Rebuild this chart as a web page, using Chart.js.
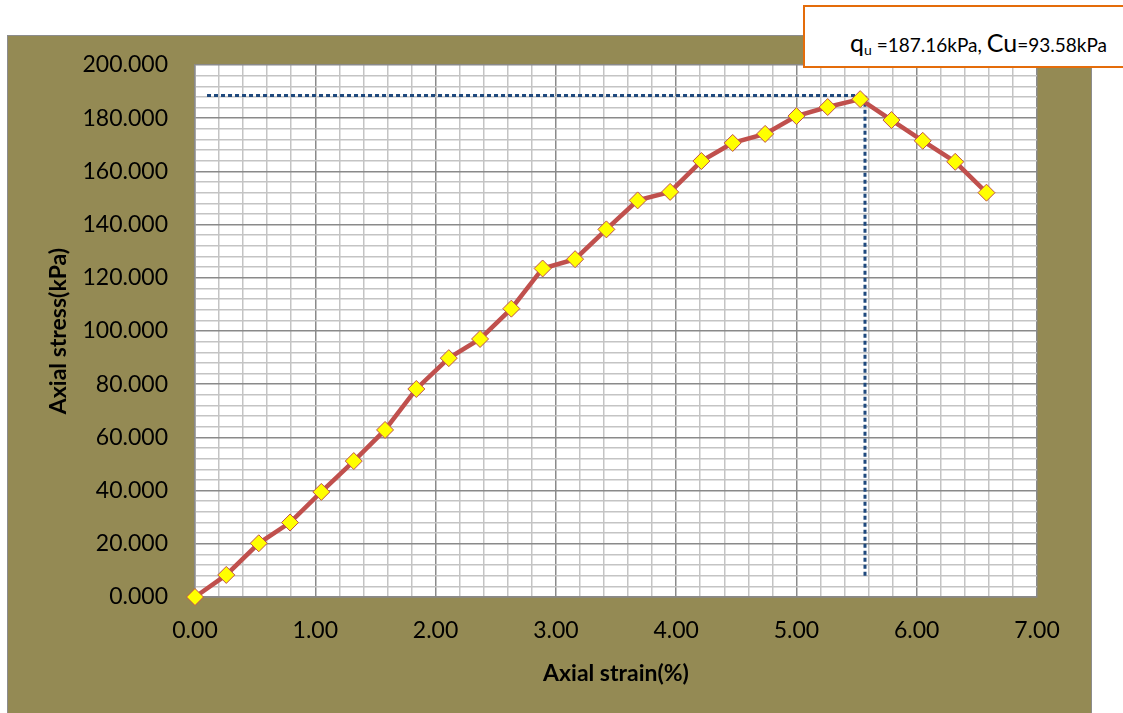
<!DOCTYPE html>
<html>
<head>
<meta charset="utf-8">
<script src="https://cdn.jsdelivr.net/npm/chart.js@4"></script>
<style>
  html, body { margin: 0; padding: 0; background: #fff; overflow: hidden; }
  body { width: 1123px; height: 713px; position: relative; font-family: Lato, sans-serif; }
  #frame {
    position: absolute; left: 7px; top: 35px; width: 1085px; height: 678px;
    box-sizing: border-box; border: 1px solid #8c8c8c; border-bottom: none;
    background: #948a54;
  }
  #note {
    position: absolute; left: 803px; top: 5px; width: 340px; height: 63px;
    box-sizing: border-box; border: 2px solid #e46c0a; background: #fff;
  }
  #note .txt {
    position: absolute; left: 45px; top: 21px; white-space: nowrap; color: #000;
    font-family: Lato, sans-serif; line-height: 28px;
  }
  .big { font-size: 25px; }
  .mid { font-size: 19px; }
  .sub { font-size: 14px; vertical-align: -3px; }
</style>
</head>
<body>
<div id="frame"><canvas id="c" width="1083" height="677"></canvas></div>
<div id="note"><div class="txt"><span class="big">q</span><span class="sub">u</span><span class="mid"> =187.16kPa, </span><span class="big">Cu</span><span class="mid">=93.58kPa</span></div></div>
<script>
  // ---- data ----
  const strain = [0.00, 0.26, 0.53, 0.79, 1.05, 1.32, 1.58, 1.84, 2.11, 2.37, 2.63, 2.89, 3.16,
                  3.42, 3.68, 3.95, 4.21, 4.47, 4.74, 5.00, 5.26, 5.53, 5.79, 6.05, 6.32, 6.58];
  const stress = [0.0, 8.3, 20.2, 28.0, 39.5, 51.1, 62.8, 78.2, 89.8, 97.0, 108.4, 123.5, 127.0,
                  138.2, 149.1, 152.3, 163.9, 170.7, 174.1, 180.8, 184.2, 187.16, 179.3, 171.5, 163.6, 152.0];

  // dotted peak guide (strain, stress)
  const guideX = [0.10, 5.57, 5.57];
  const guideY = [188.5, 188.5, 7.3];

  const xMin = 0, xMax = 7, xStep = 0.2, xMajor = 1;
  const yMin = 0, yMax = 200, yStep = 4, yMajor = 20;

  const MAJOR = '#8a8a8a', MINOR = '#c4c4c4';
  const isMajor = (v, m) => Math.abs(v / m - Math.round(v / m)) < 1e-6;

  const plotBg = {
    id: 'plotBg',
    beforeDraw(chart) {
      const { ctx, chartArea: a } = chart;
      ctx.save();
      ctx.fillStyle = '#fff';
      ctx.fillRect(a.left, a.top, a.right - a.left, a.bottom - a.top);
      ctx.restore();
    }
  };

  new Chart(document.getElementById('c'), {
    type: 'line',
    plugins: [plotBg],
    data: {
      datasets: [{
        label: 'stress',
        data: strain.map((x, i) => ({ x, y: stress[i] })),
        borderColor: '#c0504d',
        borderWidth: 4.5,
        pointStyle: 'rectRot',
        pointRadius: 8.5,
        pointBackgroundColor: '#ffff00',
        pointBorderColor: '#c0504d',
        pointBorderWidth: 1,
        tension: 0,
        clip: false,
        order: 0
      }, {
        label: 'peak',
        data: guideX.map((x, i) => ({ x, y: guideY[i] })),
        borderColor: '#1f497d',
        borderWidth: 3,
        borderDash: [4, 3],
        pointRadius: 0,
        tension: 0,
        order: 1
      }]
    },
    options: {
      responsive: false,
      animation: false,
      layout: { padding: { top: 29, right: 54, left: 0, bottom: 0 } },
      plugins: { legend: { display: false }, tooltip: { enabled: false } },
      scales: {
        x: {
          type: 'linear', min: xMin, max: xMax,
          afterFit(s) { s.height = 116; },
          ticks: {
            stepSize: xStep, autoSkip: false, maxRotation: 0, padding: 20,
            color: '#000', font: { family: 'Lato', size: 23 },
            callback: v => isMajor(v, xMajor) ? v.toFixed(2) : ''
          },
          grid: {
            drawTicks: false, lineWidth: 1.5,
            color: c => isMajor(c.tick.value, xMajor) ? MAJOR : MINOR
          },
          border: { color: MAJOR, width: 1.5 },
          title: {
            display: true, text: 'Axial strain(%)', color: '#000',
            font: { family: 'Lato', size: 23, weight: 'bold' },
            padding: { top: 0, bottom: 26 }
          }
        },
        y: {
          type: 'linear', min: yMin, max: yMax,
          afterFit(s) { s.width = 187; },
          ticks: {
            stepSize: yStep, autoSkip: false, padding: 3,
            color: '#000', font: { family: 'Lato', size: 23 },
            callback: v => isMajor(v, yMajor) ? v.toFixed(3) : ''
          },
          grid: {
            drawTicks: true, tickLength: 24, tickColor: 'rgba(0,0,0,0)', lineWidth: 1.5,
            color: c => isMajor(c.tick.value, yMajor) ? MAJOR : MINOR
          },
          border: { color: MAJOR, width: 1.5 },
          title: {
            display: true, text: 'Axial stress(kPa)', color: '#000',
            font: { family: 'Lato', size: 23, weight: 'bold' },
            padding: { top: 37, bottom: 0 }
          }
        }
      }
    }
  });
</script>
</body>
</html>
